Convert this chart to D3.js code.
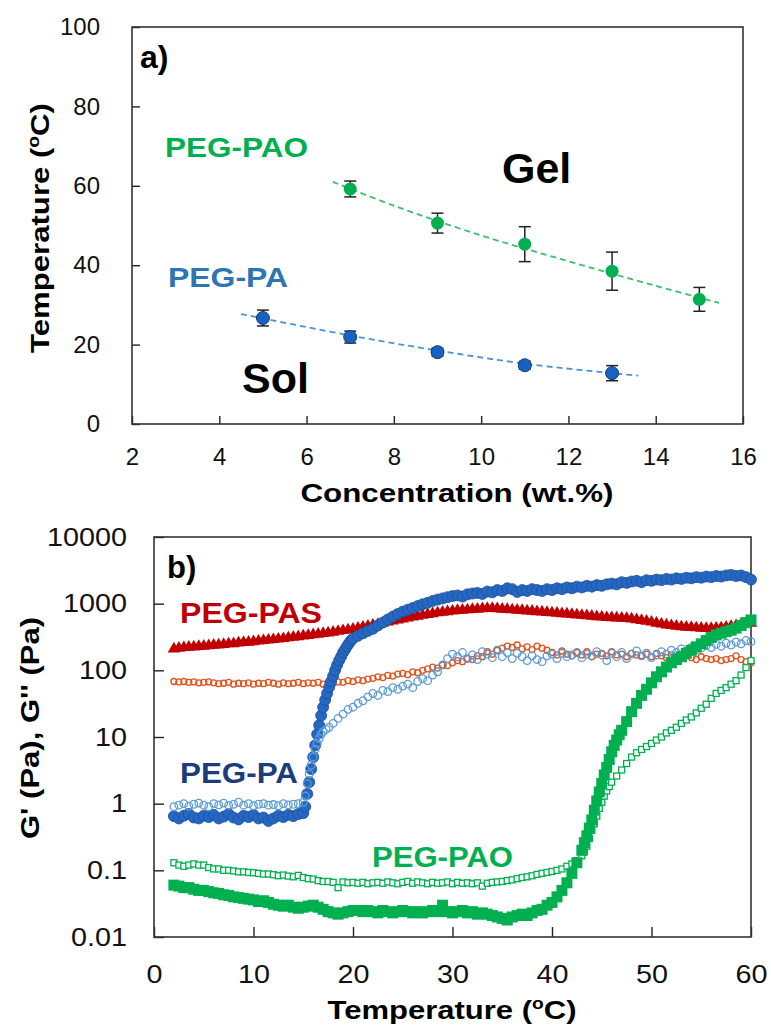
<!DOCTYPE html>
<html><head><meta charset="utf-8">
<script src="https://cdn.jsdelivr.net/npm/d3@7"></script>
<style>body{margin:0;background:#fff}text{font-family:"Liberation Sans",Arial,sans-serif}</style>
</head><body><svg id="c" width="771" height="1028"></svg>
<script>
// ---------- Panel a data ----------
const paoConc = [7, 9, 11, 13, 15];
const paoTemp = [59.2, 50.6, 45.3, 38.5, 31.4];
const paoErr  = [2.0, 2.5, 4.4, 4.8, 3.0];
const paConc  = [5, 7, 9, 11, 13];
const paTemp  = [26.7, 21.9, 18.1, 14.8, 12.8];
const paErr   = [2.0, 1.5, 1.0, 1.0, 1.9];
const paoTrend = [[6.6,61],[8,55],[10,47.5],[12,41],[14,34.8],[15.45,30.5]];
const paTrend  = [[4.5,27.7],[5,26.6],[7,22.3],[9,18.5],[11,15.2],[13,12.8],[13.6,12.2]];
const aXTicks = [2,4,6,8,10,12,14,16];
const aYTicks = [0,20,40,60,80,100];

// ---------- Panel b data: [temperature °C, modulus Pa] ----------
const paGp = [[2,.65],[2.5,.6],[3,.66],[3.5,.7],[4,.62],[4.5,.6],[5,.66],[5.5,.63],[6,.68],[6.5,.6],[7,.64],[7.5,.7],[8,.62],[8.5,.58],[9,.66],[9.5,.63],[10,.68],[10.5,.6],[11,.62],[11.5,.55],[12,.6],[12.5,.66],[13,.63],[13.5,.68],[14,.65],[14.5,.7],[15,.72],[15.2,.9],[15.4,1.4],[15.6,2.1],[15.8,3.3],[16,5],[16.2,7.5],[16.4,11],[16.6,15],[16.8,21],[17,28],[17.2,36],[17.4,45],[17.6,56],[17.8,68],[18,82],[18.2,100],[18.4,120],[18.6,140],[18.8,160],[19,185],[19.2,205],[19.4,230],[19.6,255],[19.8,280],[20,300],[20.5,330],[21,360],[21.5,390],[22,420],[22.5,470],[23,520],[23.5,580],[24,640],[24.5,700],[25,760],[25.5,810],[26,860],[26.5,920],[27,980],[27.5,1030],[28,1100],[28.5,1150],[29,1200],[29.5,1250],[30,1300],[30.5,1330],[31,1280],[31.5,1380],[32,1420],[32.5,1450],[33,1400],[33.5,1520],[34,1480],[34.5,1600],[35,1550],[35.5,1700],[36,1650],[36.5,1500],[37,1600],[37.5,1550],[38,1650],[38.5,1600],[39,1550],[39.5,1650],[40,1600],[40.5,1700],[41,1650],[41.5,1750],[42,1700],[42.5,1800],[43,1750],[43.5,1850],[44,1800],[44.5,1900],[45,1850],[45.5,1950],[46,2000],[46.5,1950],[47,2100],[47.5,2050],[48,2150],[48.5,2200],[49,2100],[49.5,2250],[50,2200],[50.5,2300],[51,2250],[51.5,2350],[52,2300],[52.5,2400],[53,2350],[53.5,2450],[54,2400],[54.5,2500],[55,2450],[55.5,2550],[56,2500],[56.5,2600],[57,2550],[57.5,2650],[58,2700],[58.5,2600],[59,2650],[59.5,2500],[60,2300]];
const paGpp = [[2,.9],[2.5,.95],[3,1],[3.5,.92],[4,.98],[4.5,1.02],[5,.95],[5.5,.9],[6,1],[6.5,.96],[7,1.02],[7.5,.94],[8,.98],[8.5,1.05],[9,.95],[9.5,1],[10,.93],[10.5,.98],[11,1],[11.5,.95],[12,.97],[12.5,.93],[13,1],[13.5,.96],[14,.98],[14.5,1],[15,1.05],[15.2,1.3],[15.4,2],[15.6,2.8],[15.8,3.8],[16,5],[16.2,6.5],[16.4,8],[16.6,9.5],[16.8,11],[17,12],[17.3,13],[17.6,14],[18,16],[18.5,19],[19,22],[19.5,26],[20,28],[20.5,32],[21,35],[21.5,40],[22,45],[22.5,42],[23,50],[23.5,48],[24,55],[24.5,52],[25,58],[25.5,62],[26,55],[26.5,68],[27,75],[27.5,70],[28,85],[28.5,95],[29,120],[29.5,150],[30,175],[30.5,160],[31,185],[31.5,150],[32,170],[32.5,145],[33,190],[33.5,175],[34,155],[34.5,200],[35,160],[35.5,185],[36,150],[36.5,180],[37,160],[37.5,140],[38,165],[38.5,145],[39,135],[39.5,165],[40,175],[40.5,150],[41,180],[41.5,160],[42,170],[42.5,185],[43,155],[43.5,175],[44,165],[44.5,190],[45,170],[45.5,140],[46,180],[46.5,160],[47,185],[47.5,150],[48,175],[48.5,195],[49,165],[49.5,180],[50,155],[50.5,170],[51,190],[51.5,175],[52,200],[52.5,185],[53,210],[53.5,195],[54,220],[54.5,205],[55,215],[55.5,235],[56,220],[56.5,245],[57,230],[57.5,255],[58,240],[58.5,265],[59,250],[59.5,280],[60,270]];
const pasGp = [[2,210],[2.5,215],[3,220],[3.5,222],[4,225],[4.5,228],[5,230],[5.5,235],[6,238],[6.5,240],[7,245],[7.5,250],[8,252],[8.5,258],[9,262],[9.5,265],[10,270],[10.5,275],[11,280],[11.5,285],[12,290],[12.5,295],[13,300],[13.5,308],[14,315],[14.5,320],[15,328],[15.5,335],[16,342],[16.5,350],[17,358],[17.5,365],[18,375],[18.5,385],[19,395],[19.5,405],[20,415],[20.5,430],[21,445],[21.5,460],[22,475],[22.5,490],[23,510],[23.5,530],[24,550],[24.5,570],[25,590],[25.5,610],[26,630],[26.5,650],[27,670],[27.5,690],[28,710],[28.5,730],[29,745],[29.5,760],[30,775],[30.5,790],[31,800],[31.5,810],[32,820],[32.5,830],[33,840],[33.5,850],[34,850],[34.5,840],[35,830],[35.5,820],[36,810],[36.5,800],[37,790],[37.5,780],[38,770],[38.5,760],[39,750],[39.5,740],[40,730],[40.5,720],[41,710],[41.5,700],[42,690],[42.5,680],[43,670],[43.5,660],[44,650],[44.5,640],[45,630],[45.5,620],[46,615],[46.5,610],[47,605],[47.5,600],[48,590],[48.5,575],[49,560],[49.5,545],[50,530],[50.5,510],[51,495],[51.5,480],[52,470],[52.5,460],[53,450],[53.5,445],[54,440],[54.5,435],[55,430],[55.5,425],[56,425],[56.5,430],[57,435],[57.5,445],[58,455],[58.5,470],[59,485],[59.5,500],[60,510]];
const pasGpp = [[2,68],[2.5,67],[3,68],[3.5,66],[4,67],[4.5,65],[5,66],[5.5,67],[6,65],[6.5,63],[7,64],[7.5,66],[8,62],[8.5,64],[9,63],[9.5,65],[10,62],[10.5,64],[11,63],[11.5,66],[12,64],[12.5,62],[13,65],[13.5,63],[14,64],[14.5,66],[15,63],[15.5,65],[16,64],[16.5,66],[17,62],[17.5,65],[18,64],[18.5,67],[19,66],[19.5,70],[20,68],[20.5,72],[21,70],[21.5,74],[22,76],[22.5,80],[23,78],[23.5,84],[24,82],[24.5,88],[25,90],[25.5,86],[26,95],[26.5,92],[27,100],[27.5,105],[28,112],[28.5,108],[29,120],[29.5,118],[30,130],[30.5,140],[31,135],[31.5,150],[32,145],[32.5,165],[33,160],[33.5,190],[34,175],[34.5,200],[35,215],[35.5,230],[36,220],[36.5,240],[37,210],[37.5,225],[38,205],[38.5,230],[39,215],[39.5,200],[40,185],[40.5,170],[41,195],[41.5,175],[42,165],[42.5,185],[43,170],[43.5,190],[44,160],[44.5,175],[45,180],[45.5,165],[46,190],[46.5,170],[47,175],[47.5,160],[48,180],[48.5,170],[49,165],[49.5,175],[50,160],[50.5,180],[51,165],[51.5,155],[52,170],[52.5,160],[53,150],[53.5,165],[54,155],[54.5,145],[55,160],[55.5,150],[56,145],[56.5,150],[57,140],[57.5,145],[58,150],[58.5,165],[59,145],[59.5,135],[60,130]];
const paoGp = [[2,.06],[2.5,.058],[3,.055],[3.5,.055],[4,.052],[4.5,.05],[5,.05],[5.5,.048],[6,.046],[6.5,.045],[7,.043],[7.5,.042],[8,.04],[8.5,.039],[9,.038],[9.5,.037],[10,.036],[10.5,.034],[11,.035],[11.5,.033],[12,.031],[12.5,.03],[13,.029],[13.5,.03],[14,.028],[14.5,.027],[15,.028],[15.5,.029],[16,.03],[16.5,.028],[17,.026],[17.5,.024],[18,.023],[18.5,.022],[19,.023],[19.5,.024],[20,.025],[20.5,.025],[21,.024],[21.5,.025],[22,.024],[22.5,.023],[23,.025],[23.5,.024],[24,.023],[24.5,.024],[25,.025],[25.5,.024],[26,.023],[26.5,.024],[27,.023],[27.5,.024],[28,.025],[28.5,.024],[29,.03],[29.5,.024],[30,.023],[30.5,.024],[31,.025],[31.5,.023],[32,.024],[32.5,.022],[33,.023],[33.5,.022],[34,.021],[34.5,.02],[35,.019],[35.5,.018],[36,.02],[36.5,.021],[37,.022],[37.5,.021],[38,.023],[38.5,.025],[39,.026],[39.5,.03],[40,.033],[40.5,.04],[41,.05],[41.5,.065],[42,.09],[42.5,.13],[43,.2],[43.25,.26],[43.5,.33],[43.75,.43],[44,.57],[44.25,.8],[44.5,1.1],[44.75,1.5],[45,2],[45.25,2.7],[45.5,3.5],[45.75,4.6],[46,6],[46.25,7.5],[46.5,9],[46.75,10.8],[47,12.6],[47.5,17],[48,24],[48.5,32],[49,42],[49.5,52],[50,65],[50.5,80],[51,95],[51.5,112],[52,130],[52.5,145],[53,160],[53.5,180],[54,200],[54.5,225],[55,250],[55.5,280],[56,310],[56.5,340],[57,360],[57.5,380],[58,400],[58.5,430],[59,470],[59.5,520],[60,570]];
const paoGpp = [[2,.13],[2.5,.12],[3,.115],[3.5,.12],[4,.125],[4.5,.12],[5,.12],[5.5,.11],[6,.105],[6.5,.105],[7,.1],[7.5,.1],[8,.098],[8.5,.095],[9,.095],[9.5,.093],[10,.092],[10.5,.09],[11,.088],[11.5,.088],[12,.086],[12.5,.083],[13,.085],[13.5,.082],[14,.08],[14.5,.084],[15,.078],[15.5,.075],[16,.074],[16.5,.07],[17,.068],[17.5,.068],[18,.066],[18.5,.055],[19,.067],[19.5,.065],[20,.066],[20.5,.064],[21,.066],[21.5,.063],[22,.065],[22.5,.066],[23,.064],[23.5,.067],[24,.065],[24.5,.063],[25,.066],[25.5,.068],[26,.064],[26.5,.067],[27,.065],[27.5,.063],[28,.066],[28.5,.064],[29,.065],[29.5,.067],[30,.063],[30.5,.066],[31,.064],[31.5,.065],[32,.063],[32.5,.065],[33,.058],[33.5,.064],[34,.066],[34.5,.067],[35,.068],[35.5,.07],[36,.072],[36.5,.075],[37,.078],[37.5,.08],[38,.083],[38.5,.087],[39,.09],[39.5,.093],[40,.096],[40.5,.1],[41,.105],[41.5,.115],[42,.125],[42.5,.14],[43,.165],[43.25,.19],[43.5,.23],[43.75,.3],[44,.4],[44.25,.5],[44.5,.65],[44.75,.85],[45,1.05],[45.25,1.3],[45.5,1.55],[45.75,1.8],[46,2.1],[46.5,2.6],[47,3.2],[47.5,4],[48,5],[48.5,5.8],[49,6.5],[49.5,7.2],[50,8],[50.5,9],[51,10],[51.5,11.5],[52,12.6],[52.5,14],[53,16],[53.5,18],[54,20],[54.5,23],[55,27],[55.5,31],[56,38],[56.5,45],[57,50],[57.5,55],[58,62],[58.5,70],[59,85],[59.5,110],[60,140]];
const bXTicks = [0,10,20,30,40,50,60];
const bYTicks = [0.01,0.1,1,10,100,1000,10000];

// ---------- drawing ----------
const svg = d3.select("#c");
svg.append("rect").attr("width",771).attr("height",1028).attr("fill","#fff");

function stretchTo(t, w){ t.attr("textLength", w).attr("lengthAdjust","spacingAndGlyphs"); }
function stretchBy(t, s){ const L = t.node().getComputedTextLength(); stretchTo(t, L*s); }
function label(s, x, y, o){
  const t = svg.append("text").attr("x",x).attr("y",y)
    .attr("font-size",o.size).attr("font-weight",o.bold?"bold":"normal")
    .attr("fill",o.fill||"#000").attr("text-anchor",o.anchor||"start");
  if (o.deg) { t.text(s); t.append("tspan").attr("font-size",o.size*0.62).attr("dy",-o.size*0.38).text("o");
               t.append("tspan").attr("dy",o.size*0.38).text("C)"); }
  else t.text(s);
  if (o.rot) t.attr("transform",`rotate(-90,${x},${y})`);
  if (o.w) stretchTo(t,o.w);
  return t;
}

// ===== Panel a =====
const xA = d3.scaleLinear().domain([2,16]).range([132,743]);
const yA = d3.scaleLinear().domain([0,100]).range([424,27]);
const gA = svg.append("g");
const axA = gA.append("g").attr("transform","translate(0,424)")
  .call(d3.axisBottom(xA).tickValues(aXTicks).tickSize(-8).tickPadding(24));
const ayA = gA.append("g").attr("transform","translate(132,0)")
  .call(d3.axisLeft(yA).tickValues(aYTicks).tickSize(-8).tickPadding(32));
[axA, ayA].forEach(a=>{ a.select(".domain").remove();
  a.selectAll("line").attr("stroke","#222").attr("stroke-width",1.4);
  a.selectAll("text").attr("font-size",24).attr("fill","#111").attr("font-family",'"Liberation Sans",Arial,sans-serif'); });
gA.append("rect").attr("x",xA(2)).attr("y",yA(100)).attr("width",xA(16)-xA(2)).attr("height",yA(0)-yA(100))
  .attr("fill","none").attr("stroke","#333").attr("stroke-width",1.6);

const trendLine = d3.line().x(d=>xA(d[0])).y(d=>yA(d[1])).curve(d3.curveCatmullRom);
gA.append("path").attr("d",trendLine(paoTrend)).attr("fill","none").attr("stroke","#3cbf6b").attr("stroke-width",1.8).attr("stroke-dasharray","6,4");
gA.append("path").attr("d",trendLine(paTrend)).attr("fill","none").attr("stroke","#4a93d8").attr("stroke-width",1.8).attr("stroke-dasharray","6,4");

function errBars(conc, mean, err){
  conc.forEach((c,i)=>{
    const x = xA(c), y1 = yA(mean[i]-err[i]), y2 = yA(mean[i]+err[i]);
    gA.append("line").attr("x1",x).attr("x2",x).attr("y1",y1).attr("y2",y2).attr("stroke","#222").attr("stroke-width",1.5);
    [y1,y2].forEach(y=>gA.append("line").attr("x1",x-6).attr("x2",x+6).attr("y1",y).attr("y2",y).attr("stroke","#222").attr("stroke-width",1.5));
  });
}
errBars(paoConc, paoTemp, paoErr);
errBars(paConc, paTemp, paErr);
gA.selectAll(".pao").data(paoConc).join("circle").attr("cx",d=>xA(d)).attr("cy",(d,i)=>yA(paoTemp[i])).attr("r",6.5).attr("fill","#00b050");
gA.selectAll(".pa").data(paConc).join("circle").attr("cx",d=>xA(d)).attr("cy",(d,i)=>yA(paTemp[i])).attr("r",6.5).attr("fill","#1563c0").attr("stroke","#1b3b6e").attr("stroke-width",1);

label("a)",140,68,{size:32,bold:true});
label("PEG-PAO",165,157,{size:28,bold:true,fill:"#00b050",w:143});
label("PEG-PA",168,287,{size:28,bold:true,fill:"#2e75b6",w:120});
label("Gel",502,183,{size:43,bold:true});
label("Sol",242,393,{size:43,bold:true});
label("Concentration (wt.%)",457,502,{size:26,bold:true,anchor:"middle",w:313});
label("Temperature (",49,228,{size:26,bold:true,anchor:"middle",rot:true,deg:true,w:250});

// ===== Panel b =====
const xB = d3.scaleLinear().domain([0,60]).range([154,751]);
const yB = d3.scaleLog().domain([0.01,10000]).range([937,537]);
const gB = svg.append("g");
const axB = gB.append("g").attr("transform","translate(0,937)")
  .call(d3.axisBottom(xB).tickValues(bXTicks).tickSize(-10).tickPadding(28));
const ayB = gB.append("g").attr("transform","translate(154,0)")
  .call(d3.axisLeft(yB).tickValues(bYTicks).tickFormat(d=>String(d)).tickSize(-10).tickPadding(27));
[axB, ayB].forEach(a=>{ a.select(".domain").remove();
  a.selectAll("line").attr("stroke","#222").attr("stroke-width",1.4);
  a.selectAll("text").attr("font-size",25).attr("fill","#111").attr("font-family",'"Liberation Sans",Arial,sans-serif')
   .each(function(){ stretchBy(d3.select(this),1.15); }); });
gB.append("rect").attr("x",xB(0)).attr("y",yB(10000)).attr("width",xB(60)-xB(0)).attr("height",yB(0.01)-yB(10000))
  .attr("fill","none").attr("stroke","#333").attr("stroke-width",1.6);

const tri = d3.symbol().type(d3.symbolTriangle).size(66);
gB.append("g").selectAll("path").data(pasGp).join("path")
  .attr("transform",d=>`translate(${xB(d[0])},${yB(d[1])})`).attr("d",tri).attr("fill","#c00000");
gB.append("g").selectAll("circle").data(pasGpp).join("circle")
  .attr("cx",d=>xB(d[0])).attr("cy",d=>yB(d[1])).attr("r",3).attr("fill","none").attr("stroke","#e0531f").attr("stroke-width",1.3);
gB.append("g").selectAll("circle").data(paGp).join("circle")
  .attr("cx",d=>xB(d[0])).attr("cy",d=>yB(d[1])).attr("r",5.5).attr("fill","#2568c4").attr("stroke","#1d4f96").attr("stroke-width",0.8);
gB.append("g").selectAll("circle").data(paGpp).join("circle")
  .attr("cx",d=>xB(d[0])).attr("cy",d=>yB(d[1])).attr("r",3.8).attr("fill","none").attr("stroke","#5b9bd5").attr("stroke-width",1.3);
gB.append("g").selectAll("rect").data(paoGpp).join("rect")
  .attr("x",d=>xB(d[0])-3).attr("y",d=>yB(d[1])-3).attr("width",6).attr("height",6).attr("fill","#fff").attr("stroke","#00b050").attr("stroke-width",1.3);
gB.append("g").selectAll("rect").data(paoGp).join("rect")
  .attr("x",d=>xB(d[0])-5.5).attr("y",d=>yB(d[1])-5.5).attr("width",11).attr("height",11).attr("fill","#00b050");

label("b)",167,578,{size:31,bold:true});
label("PEG-PAS",180,623,{size:29,bold:true,fill:"#c00000",w:142});
label("PEG-PA",180,783,{size:29,bold:true,fill:"#1c3c7c",w:118});
label("PEG-PAO",372,867,{size:29,bold:true,fill:"#00b050",w:141});
label("Temperature (",452,1019,{size:26,bold:true,anchor:"middle",deg:true,w:249});
label("G' (Pa), G'' (Pa)",39,728,{size:26,bold:true,anchor:"middle",rot:true,w:222});
</script></body></html>
